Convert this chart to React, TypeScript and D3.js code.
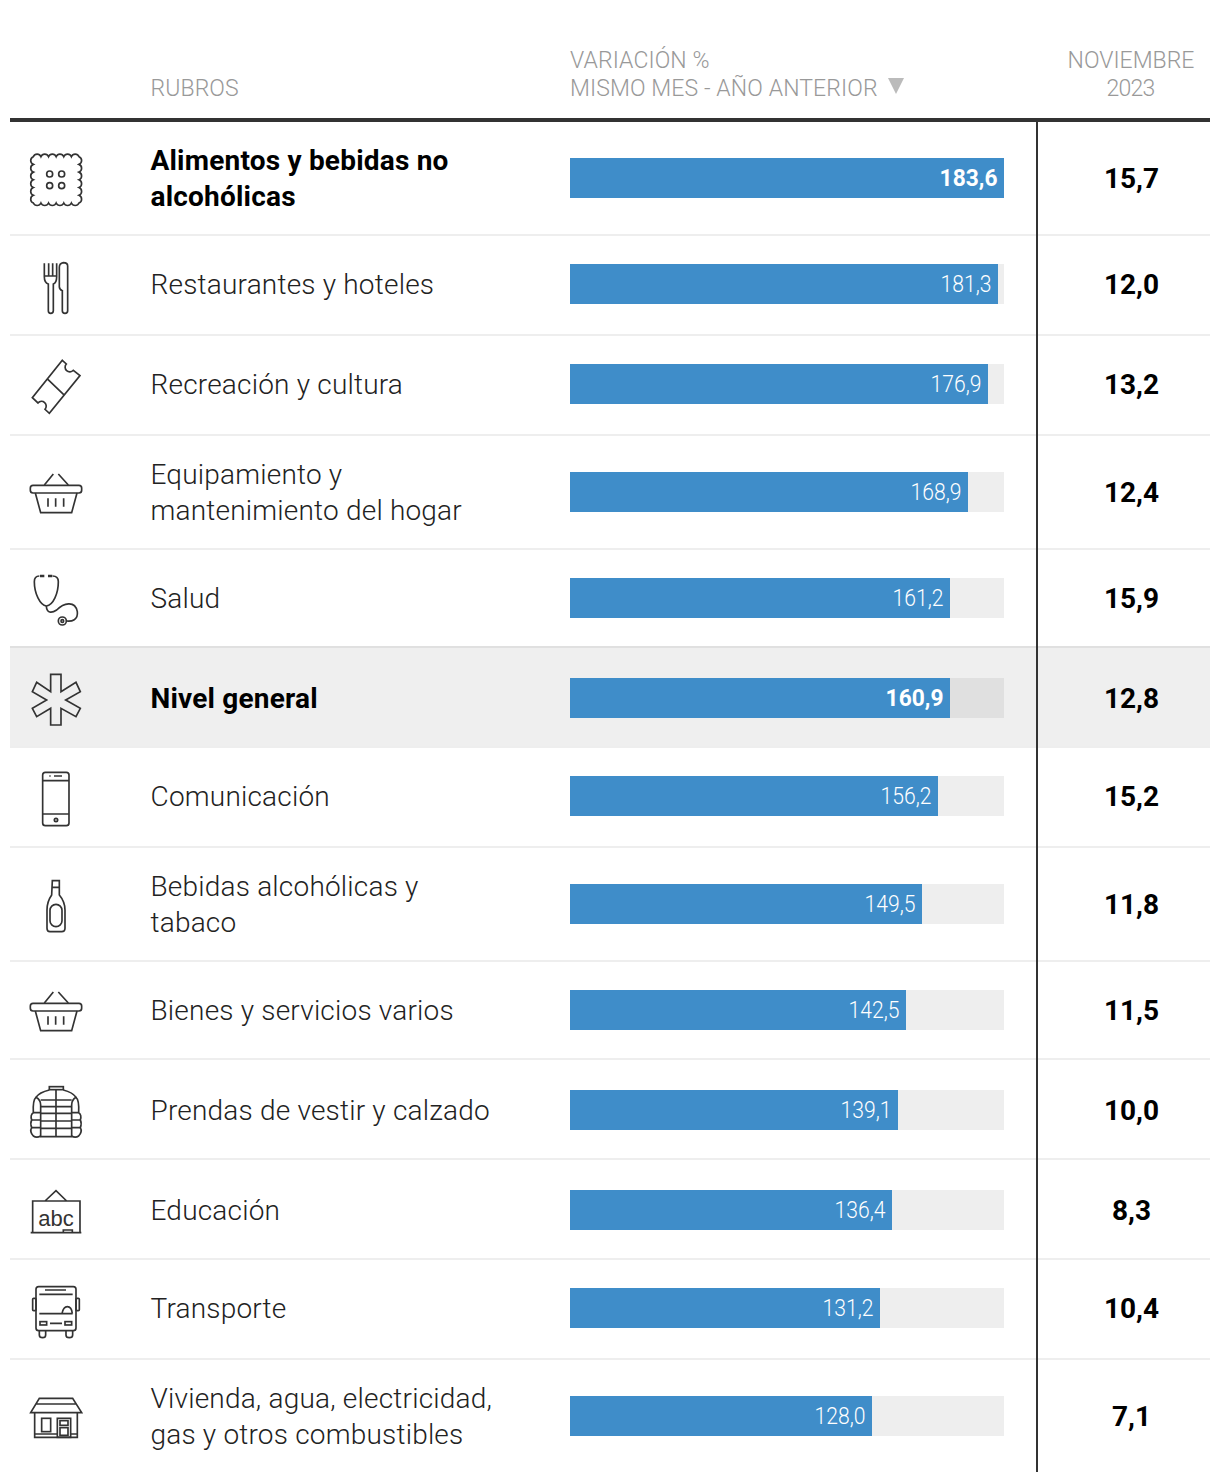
import React from 'react';
import * as d3 from 'd3';

const rubros = [
  ['Alimentos y bebidas no', 'alcohólicas'],
  ['Restaurantes y hoteles'],
  ['Recreación y cultura'],
  ['Equipamiento y', 'mantenimiento del hogar'],
  ['Salud'],
  ['Nivel general'],
  ['Comunicación'],
  ['Bebidas alcohólicas y', 'tabaco'],
  ['Bienes y servicios varios'],
  ['Prendas de vestir y calzado'],
  ['Educación'],
  ['Transporte'],
  ['Vivienda, agua, electricidad,', 'gas y otros combustibles'],
];
const variacion = [183.6, 181.3, 176.9, 168.9, 161.2, 160.9, 156.2, 149.5, 142.5, 139.1, 136.4, 131.2, 128.0];
const noviembre = [15.7, 12.0, 13.2, 12.4, 15.9, 12.8, 15.2, 11.8, 11.5, 10.0, 8.3, 10.4, 7.1];
const iconos = ['cookie', 'fork', 'ticket', 'basket', 'stetho', 'star', 'phone', 'bottle', 'basket', 'jacket', 'abc', 'bus', 'house'];
const boldRows = [0, 5];
const generalRow = 5;

// layout: row separators, taken from the page
const rowEdges = [122, 235, 335, 435, 549, 647, 747, 847, 961, 1059, 1159, 1259, 1359, 1473];
const barCenters = [178, 284, 384, 492, 598, 698, 796, 904, 1010, 1110, 1210, 1308, 1416];

const fmt = (v: number) => v.toFixed(1).replace('.', ',');
const FONT = 'Roboto, sans-serif';

const x = d3.scaleLinear().domain([0, 183.6]).range([0, 434]);
// bars in the source snap down to even pixels
const barW = (v: number) => Math.floor(x(v) / 2) * 2;
const BAR_X = 570;

function cookiePath() {
  const a = 100, b = 237, c = 80, d = 219, n = 6, r = 12.5;
  const dx = (b - a) / n, dy = (d - c) / n;
  const arc = (px: number, py: number) => `A${r} ${r} 0 0 1 ${px} ${py}`;
  let p = `M${a} ${c}`;
  for (let i = 1; i <= n; i++) p += arc(a + dx * i, c);
  for (let i = 1; i <= n; i++) p += arc(b, c + dy * i);
  for (let i = 1; i <= n; i++) p += arc(b - dx * i, d);
  for (let i = 1; i <= n; i++) p += arc(a, d - dy * i);
  return p + 'Z';
}

// icons are traced at 3x, hence the scale(1/3) on the group
const iconShift: Record<string, number> = {
  cookie: -48, fork: -154, ticket: -254, basket: -42, stetho: -148, star: -248,
  phone: -46, bottle: -154, jacket: -50, abc: -150, bus: -248, house: -136,
};

function IconShape({ name }: { name: string }) {
  switch (name) {
    case 'cookie':
      return (
        <g>
          <path d={cookiePath()} />
          {[[149, 132], [185, 132], [149, 167], [185, 167]].map(([cx, cy], i) => <circle key={i} cx={cx} cy={cy} r={9} />)}
        </g>
      );
    case 'fork':
      return (
        <g>
          <path d="M133 400V440Q133 458 145 462V542Q145 550 152 550Q160 550 160 542V462Q170 458 170 440V400M146 400V438M158 400V438M133 438H170" />
          <path d="M190 398Q178 400 178 412V470Q178 478 187 482V542Q187 550 195 550Q203 550 203 542V408Q203 398 190 398Z" />
        </g>
      );
    case 'ticket':
      return <path d="M187 691L199 702A14 14 0 0 0 220 721L240 737L148 850L135 838A14 14 0 0 0 114 819L97 803ZM142 747L192 795" />;
    case 'basket':
      return (
        <g>
          <path d="M133 105L160 72M175 72L205 105M106 129L122 188H215L231 129M144 145V170M167 145V170M191 145V170" />
          <rect x={91} y={106} width={154} height={23} rx={8} />
        </g>
      );
    case 'stetho':
      return (
        <g>
          <path d="M118 378Q103 378 103 395C103 430 120 465 139 468C160 465 175 430 175 395Q175 378 158 378" />
          <path d="M139 468C140 490 155 490 170 480C190 460 225 450 232 485C235 510 215 515 200 513" />
          <path d="M120 378H133M144 378H157" strokeWidth={7} />
          <circle cx={187} cy={513} r={12} />
          <circle cx={187} cy={513} r={4} />
        </g>
      );
    case 'star':
      return <path d="M152 673H183V725L228 697L241 725L197 750L241 775L228 800L183 775V825H152V775L110 800L97 775L140 750L97 725L110 697L152 725Z" />;
    case 'phone':
      return (
        <g>
          <rect x={128} y={67} width={79} height={160} rx={8} />
          <path d="M128 92H207M128 192H207M162 78H186M148 78H152" />
          <circle cx={168} cy={210} r={5} />
        </g>
      );
    case 'bottle':
      return (
        <g>
          <path d="M157 392H178V435Q195 455 195 480V535Q195 545 185 545H150Q141 545 141 535V480Q141 455 155 435ZM156 412H179" />
          <rect x={150} y={463} width={36} height={67} rx={18} />
        </g>
      );
    case 'jacket':
      return (
        <g>
          <rect x={148} y={80} width={42} height={9} />
          <path d="M148 90Q118 97 108 112Q122 120 122 135V230H215V135Q215 120 228 112Q218 97 190 90" />
          <path d="M108 112Q98 120 100 158Q90 165 95 180Q90 190 95 203Q88 215 100 228Q110 235 122 228" />
          <path d="M228 112Q238 120 236 158Q246 165 241 180Q246 190 241 203Q248 215 236 228Q226 235 215 228" />
          <path d="M168 90V230M122 120H215M122 140H215M122 160H215M122 183H215M122 205H215M100 158H122M95 180H122M95 203H122M215 158H236M215 180H241M215 203H241" />
        </g>
      );
    case 'abc':
      return (
        <g>
          <path d="M98 518V423H240V518M92 518H244M135 423L168 392L200 423M190 518V510H217V518" />
          <text x={168} y={497} textAnchor="middle" fontFamily="Liberation Sans" fontSize={66} fill="#333" stroke="none">abc</text>
        </g>
      );
    case 'bus':
      return (
        <g>
          <rect x={108} y={680} width={120} height={132} rx={8} />
          <rect x={98} y={715} width={10} height={37} rx={3} />
          <rect x={228} y={715} width={10} height={37} rx={3} />
          <rect x={120} y={785} width={20} height={10} />
          <rect x={195} y={785} width={20} height={10} />
          <path d="M135 690H198M118 703H218M118 761H218M186 761Q190 740 202 740Q215 740 217 761M150 790H186" />
          <path d="M118 812V825Q118 833 128 833Q137 833 137 825V812M198 812V825Q198 833 208 833Q218 833 218 825V812" />
        </g>
      );
    case 'house':
      return (
        <g>
          <path d="M92 398L118 355H218L245 398ZM108 372H228M104 398V472H232V398M104 462H172M212 462H232" />
          <rect x={125} y={415} width={27} height={40} />
          <rect x={172} y={415} width={40} height={57} />
          <rect x={180} y={422} width={24} height={14} />
          <rect x={180} y={443} width={24} height={23} />
        </g>
      );
    default:
      return null;
  }
}

export default function App() {
  return (
    <svg width={1220} height={1482} style={{ position: 'absolute', left: 0, top: 0 }} fontFamily={FONT}>
      {/* header */}
      <g fill="#999" fontSize={23} fontWeight={300}>
        <text x={150.5} y={96} letterSpacing={0.1}>RUBROS</text>
        <text x={570} y={68} letterSpacing={0.1}>VARIACIÓN %</text>
        <text x={570} y={96} letterSpacing={0.1}>MISMO MES - AÑO ANTERIOR</text>
        <text x={1131} y={68} textAnchor="middle">NOVIEMBRE</text>
        <text x={1130.5} y={96} textAnchor="middle" letterSpacing={-0.8}>2023</text>
      </g>
      <path d="M888 78H904L896 94Z" fill="#bbb" />

      {/* general row background */}
      <rect x={10} y={rowEdges[generalRow]} width={1200} height={rowEdges[generalRow + 1] - rowEdges[generalRow]} fill="#efefef" />

      {/* separators */}
      {rowEdges.slice(1, -1).map((y, i) => (
        <line key={i} x1={10} x2={1210} y1={y} y2={y} stroke={i === generalRow - 1 ? '#e0e0e0' : '#eee'} strokeWidth={2} />
      ))}

      {rubros.map((lines, i) => {
        const cy = barCenters[i];
        const bold = boldRows.includes(i);
        return (
          <g key={i}>
            <g transform={`translate(0,${cy + iconShift[iconos[i]]}) scale(0.3333)`} fill="none" stroke="#333" strokeWidth={5}>
              <IconShape name={iconos[i]} />
            </g>
            <text fontSize={28} fontWeight={bold ? 700 : 300} fill={bold ? '#000' : '#222'} letterSpacing={0.2}>
              {lines.map((l, j) => (
                <tspan key={j} x={150.5} y={cy + 10 + (j - (lines.length - 1) / 2) * 36}>{l}</tspan>
              ))}
            </text>
            <rect x={BAR_X} y={cy - 20} width={x.range()[1]} height={40} fill={i === generalRow ? '#e0e0e0' : '#eee'} />
            <rect x={BAR_X} y={cy - 20} width={barW(variacion[i])} height={40} fill="#3f8dc9" />
            <text
              transform={`translate(${BAR_X + barW(variacion[i]) - 6.5},${cy + 8}) scale(${bold ? 0.95 : 0.88},1)`}
              textAnchor="end" fill="#fff" fontSize={24} fontWeight={bold ? 700 : 300}
            >{fmt(variacion[i])}</text>
            <text x={1131.5} y={cy + 10} textAnchor="middle" fill="#000" fontSize={28} fontWeight={700}>{fmt(noviembre[i])}</text>
          </g>
        );
      })}

      {/* header rule and column rule */}
      <line x1={10} x2={1210} y1={120} y2={120} stroke="#333" strokeWidth={4} />
      <line x1={1037} x2={1037} y1={122} y2={1472} stroke="#333" strokeWidth={2} />
    </svg>
  );
}
